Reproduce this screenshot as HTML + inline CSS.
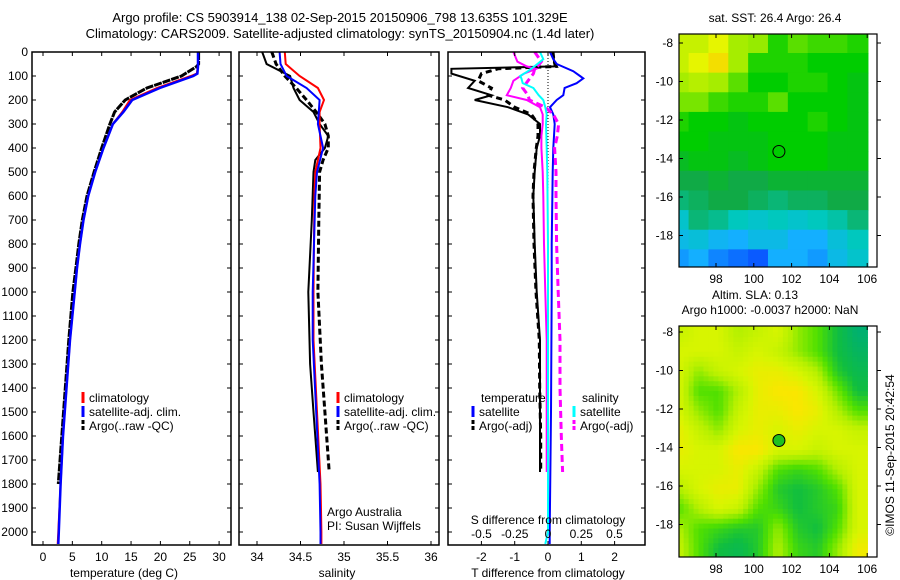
<!DOCTYPE html>
<html><head><meta charset="utf-8"><style>
body{margin:0;background:#fff;}
svg{display:block;font-family:"Liberation Sans",sans-serif;}
</style></head><body>
<svg id="fig" width="900" height="580" xmlns="http://www.w3.org/2000/svg">
<rect width="900" height="580" fill="#fff"/>
<text x="340" y="22" font-size="13" text-anchor="middle">Argo profile: CS 5903914_138 02-Sep-2015 20150906_798 13.635S 101.329E</text>
<text x="340" y="38" font-size="13" text-anchor="middle">Climatology: CARS2009. Satellite-adjusted climatology: synTS_20150904.nc (1.4d later)</text>
<g id="g1"></g>
<g id="g2"></g>
<g id="g3"></g>
<g id="m1"></g>
<g id="m2"></g>
<text x="775" y="22" font-size="12" text-anchor="middle">sat. SST: 26.4 Argo: 26.4</text>
<text x="755" y="299" font-size="12" text-anchor="middle">Altim. SLA: 0.13</text>
<text x="770" y="314" font-size="12" text-anchor="middle">Argo h1000: -0.0037 h2000: NaN</text>
<text transform="translate(894,455) rotate(-90)" font-size="12" text-anchor="middle">©IMOS 11-Sep-2015 20:42:54</text>
</svg>
<script>
// ---- data ----
const tDepth=[0,60,90,100,150,200,250,300,400,500,600,700,800,900,1000,1200,1400,1600,1800,2000,2050];
const tClim=[26.4,26.4,26.2,25.2,19.4,14.8,13.5,11.9,10.3,8.9,7.7,6.9,6.3,5.8,5.4,4.6,4.0,3.4,3.0,2.6,2.5];
const tSat=[26.4,26.4,26.3,25.6,19.9,15.2,13.7,11.9,10.3,8.9,7.7,6.9,6.3,5.8,5.4,4.6,4.0,3.4,3.0,2.7,2.6];
const argoDepth=[0,50,60,100,150,200,250,300,400,500,600,700,800,900,1000,1200,1400,1600,1800];
const tArgo=[26.5,26.5,26.2,23.6,17.7,14.0,12.2,11.4,10.0,8.7,7.5,6.7,6.1,5.6,5.1,4.4,3.8,3.2,2.6];
const sDepth=[0,50,100,150,200,250,300,400,500,600,1000,1200,1500,1800,2000,2050];
const sClim=[34.32,34.33,34.49,34.70,34.77,34.72,34.72,34.73,34.67,34.66,34.65,34.65,34.69,34.73,34.74,34.74];
const sSat=[34.26,34.27,34.34,34.57,34.72,34.71,34.70,34.76,34.69,34.67,34.64,34.64,34.68,34.72,34.73,34.73];
const sArgoDepth=[0,50,100,150,200,250,300,350,400,450,500,700,1000,1300,1500,1750];
const sArgoRaw=[34.06,34.11,34.38,34.42,34.49,34.65,34.72,34.82,34.78,34.67,34.65,34.63,34.59,34.61,34.65,34.70];
const sArgoQC=[34.17,34.22,34.32,34.45,34.57,34.68,34.78,34.82,34.82,34.76,34.72,34.71,34.70,34.74,34.78,34.83];
const dDepth=[0,40,60,70,90,120,150,180,200,230,260,300,350,400,500,600,800,1000,1200,1400,1600,1750];
const dTArgo=[0.16,0.18,0.2,-2.9,-2.9,-2.2,-2.4,-1.7,-2.2,-1.2,-0.6,-0.24,-0.24,-0.34,-0.4,-0.44,-0.4,-0.34,-0.24,-0.24,-0.24,-0.24];
const dTArgoAdj=[0.15,0.18,0.25,-1.5,-2.0,-2.1,-1.7,-1.8,-1.3,-1.0,-0.5,-0.3,-0.3,-0.35,-0.42,-0.45,-0.42,-0.36,-0.26,-0.25,-0.22,-0.22];
const dSatDepth=[0,30,50,80,100,110,130,150,180,200,230,260,300,400,500,800,1000,1500,2000,2050];
const dTSat=[0.06,0.16,0.26,0.76,0.96,1.06,0.86,0.5,0.46,0.26,0.06,0.16,0.2,0.16,0.14,0.11,0.11,0.09,0.05,0.05];
const dSSat=[-0.06,-0.035,-0.08,-0.15,-0.21,-0.2,-0.19,-0.11,-0.07,-0.035,-0.02,-0.01,-0.015,-0.01,-0.005,0,0,0,0,-0.02];
const dSArgo=[-0.26,-0.23,-0.16,-0.09,-0.18,-0.26,-0.28,-0.31,-0.16,-0.06,-0.04,-0.04,-0.05,-0.05,-0.04,-0.035,-0.03,-0.02,-0.01,-0.01,-0.01,-0.01];
const dSArgoAdj=[-0.1,-0.05,-0.08,-0.1,-0.11,-0.15,-0.19,-0.15,-0.14,-0.02,0.04,0.08,0.07,0.05,0.06,0.06,0.065,0.077,0.09,0.09,0.10,0.11];
const depthTicks=[0,100,200,300,400,500,600,700,800,900,1000,1100,1200,1300,1400,1500,1600,1700,1800,1900,2000];
const tTicks=[0,5,10,15,20,25,30];
const sTicks=[34,34.5,35,35.5,36];
const dTTicks=[-2,-1,0,1,2];
const dSTicks=[-0.5,-0.25,0,0.25,0.5];
const dSTickLabels=["-0.5","-0.25","0","0.25","0.5"];
const sstRows=[
[27.2,27.2,27.4,27.0,26.9,26.5,26.7,26.6,26.6,26.5],
[27.2,27.4,27.6,27.0,26.5,26.5,26.5,26.4,26.4,26.4],
[27.0,27.1,27.0,26.7,26.4,26.4,26.5,26.5,26.4,26.3],
[26.8,26.8,26.6,26.5,26.5,26.7,26.4,26.4,26.4,26.3],
[26.5,26.4,26.4,26.3,26.4,26.4,26.4,26.5,26.4,26.3],
[26.4,26.4,26.3,26.3,26.3,26.4,26.4,26.4,26.3,26.3],
[26.2,26.3,26.3,26.2,26.3,26.4,26.4,26.4,26.3,26.3],
[26.0,26.0,26.1,26.0,26.0,26.1,26.1,26.1,26.1,26.1],
[25.8,25.9,26.0,26.0,25.9,25.8,25.9,25.9,26.0,26.0],
[25.4,25.8,25.7,25.5,25.4,25.5,25.4,25.5,25.6,25.8],
[25.2,25.3,25.1,25.0,25.2,25.2,25.0,25.0,25.3,25.5],
[24.9,25.0,24.8,24.7,24.6,25.0,25.0,24.9,25.2,25.4]];
const slaRows=[
[.8,.85,.85,.75,.8,.85,.7,.6,.45,.3],
[.85,.85,.85,.8,.85,.8,.7,.6,.45,.35],
[.85,.7,.8,.85,.9,.9,.85,.75,.5,.4],
[.85,.6,.6,.75,.9,.95,.95,.85,.65,.45],
[.85,.7,.6,.8,.9,.9,.95,.9,.75,.6],
[.9,.8,.7,.85,.9,.85,.9,.85,.85,.8],
[.9,.85,.85,.95,.95,.85,.85,.8,.85,.85],
[.85,.85,.85,.9,.8,.6,.55,.6,.75,.85],
[.75,.85,.9,.9,.7,.5,.45,.5,.6,.85],
[.6,.75,.85,.8,.6,.55,.45,.5,.55,.85],
[.75,.6,.55,.5,.5,.7,.5,.45,.6,.85],
[.8,.6,.45,.4,.5,.75,.55,.5,.7,.92]];
const lonTicks=[98,100,102,104,106];
const latTicks=[-8,-10,-12,-14,-16,-18];
const argoLon=101.329, argoLat=-13.635;

const NS="http://www.w3.org/2000/svg";
function mk(p,tag,at,txt){const e=document.createElementNS(NS,tag);for(const k in at)e.setAttribute(k,at[k]);if(txt!==undefined)e.textContent=txt;p.appendChild(e);return e;}
const yD=d=>52+d*0.24;
const xT=v=>43+v*5.87;
const xS=v=>257+(v-34)*87;
const xDT=v=>548+v*33.3;
const xDS=v=>548+v*133;
function line(g,depths,vals,fx,color,w,dash,name){
  const pts=depths.map((d,i)=>fx(vals[i]).toFixed(1)+","+yD(d).toFixed(1)).join(" ");
  const e=mk(g,"polyline",{points:pts,fill:"none",stroke:color,"stroke-width":w});
  if(dash)e.setAttribute("stroke-dasharray",dash);
  
  
}
function panel(g,x0,x1,id){
  const cp=mk(g,"clipPath",{id:id});mk(cp,"rect",{x:x0,y:52,width:x1-x0,height:493});
  const inner=mk(g,"g",{"clip-path":"url(#"+id+")"});
  depthTicks.forEach(d=>{mk(g,"line",{x1:x0,x2:x0+4,y1:yD(d),y2:yD(d),stroke:"#000"});mk(g,"line",{x1:x1-4,x2:x1,y1:yD(d),y2:yD(d),stroke:"#000"});});
  return inner;
}
function frame(g,x0,x1){const r=mk(g,"rect",{x:x0,y:52,width:x1-x0,height:493,fill:"none",stroke:"#000","stroke-width":1.5});}
function legendItem(g,x,y,color,label,dash){
  mk(g,"line",{x1:x,x2:x,y1:y-10,y2:y+1,stroke:color,"stroke-width":3,"stroke-dasharray":dash||""});
  const t=mk(g,"text",{x:x+6,y:y,"font-size":12},label);
  
  
}
// panel 1
const g1=document.getElementById("g1");
const i1=panel(g1,32,231,"c1");
depthTicks.forEach(d=>{const t=mk(g1,"text",{x:28,y:yD(d)+4,"font-size":12,"text-anchor":"end"},String(d));});
tTicks.forEach(v=>{mk(g1,"line",{x1:xT(v),x2:xT(v),y1:545,y2:541,stroke:"#000"});mk(g1,"line",{x1:xT(v),x2:xT(v),y1:52,y2:56,stroke:"#000"});const t=mk(g1,"text",{x:xT(v),y:561,"font-size":12,"text-anchor":"middle"},String(v));});
mk(g1,"text",{x:124,y:577,"font-size":12,"text-anchor":"middle"},"temperature (deg C)");
line(i1,argoDepth,tArgo,xT,"#000",3,"8,1","temperature-argo");
line(i1,tDepth,tClim,xT,"#f00",2,null,"temperature-climatology");
line(i1,tDepth,tSat,xT,"#00f",2.5,null,"temperature-satellite");
frame(g1,32,231);
legendItem(g1,83,402,"#f00","climatology");
legendItem(g1,83,416,"#00f","satellite-adj. clim.");
legendItem(g1,83,430,"#000","Argo(..raw -QC)","4,2");
// panel 2
const g2=document.getElementById("g2");
const i2=panel(g2,239,439,"c2");
sTicks.forEach(v=>{mk(g2,"line",{x1:xS(v),x2:xS(v),y1:545,y2:541,stroke:"#000"});mk(g2,"line",{x1:xS(v),x2:xS(v),y1:52,y2:56,stroke:"#000"});const t=mk(g2,"text",{x:xS(v),y:561,"font-size":12,"text-anchor":"middle"},String(v));});
mk(g2,"text",{x:337,y:577,"font-size":12,"text-anchor":"middle"},"salinity");
line(i2,sArgoDepth,sArgoRaw,xS,"#000",2,null,"salinity-argo-raw");
line(i2,sArgoDepth,sArgoQC,xS,"#000",3,"6,3","salinity-argo-qc");
line(i2,sDepth,sClim,xS,"#f00",2,null,"salinity-climatology");
line(i2,sDepth,sSat,xS,"#00f",2,null,"salinity-satellite");
frame(g2,239,439);
legendItem(g2,338,402,"#f00","climatology");
legendItem(g2,338,416,"#00f","satellite-adj. clim.");
legendItem(g2,338,430,"#000","Argo(..raw -QC)","4,2");
mk(g2,"text",{x:327,y:516,"font-size":12},"Argo Australia");
mk(g2,"text",{x:327,y:530,"font-size":12},"PI: Susan Wijffels");
// panel 3
const g3=document.getElementById("g3");
const i3=panel(g3,448,645,"c3");
mk(i3,"line",{x1:548,x2:548,y1:52,y2:300,stroke:"#000","stroke-dasharray":"1,2"});
dTTicks.forEach(v=>{mk(g3,"line",{x1:xDT(v),x2:xDT(v),y1:545,y2:541,stroke:"#000"});const t=mk(g3,"text",{x:xDT(v),y:561,"font-size":12,"text-anchor":"middle"},String(v));});
dSTicks.forEach((v,i)=>{mk(g3,"line",{x1:xDS(v),x2:xDS(v),y1:52,y2:56,stroke:"#000"});const t=mk(g3,"text",{x:xDS(v),y:538,"font-size":12,"text-anchor":"middle"},dSTickLabels[i]);});
mk(g3,"text",{x:548,y:524,"font-size":12,"text-anchor":"middle"},"S difference from climatology");
mk(g3,"text",{x:548,y:577,"font-size":12,"text-anchor":"middle"},"T difference from climatology");
line(i3,dDepth,dTArgo,xDT,"#000",2,null,"t-diff-argo");
line(i3,dDepth,dTArgoAdj,xDT,"#000",3,"6,4","t-diff-argo-adj");
line(i3,dSatDepth,dTSat,xDT,"#00f",2,null,"t-diff-satellite");
line(i3,dDepth,dSArgo,xDS,"#f0f",2,null,"s-diff-argo");
line(i3,dDepth,dSArgoAdj,xDS,"#f0f",3,"7,4","s-diff-argo-adj");
line(i3,dSatDepth,dSSat,xDS,"#0ff",2,null,"s-diff-satellite");
frame(g3,448,645);
mk(g3,"text",{x:481,y:402,"font-size":12},"temperature");
legendItem(g3,473,416,"#00f","satellite");
legendItem(g3,473,430,"#000","Argo(-adj)","4,2");
mk(g3,"text",{x:582,y:402,"font-size":12},"salinity");
legendItem(g3,574,416,"#0ff","satellite");
legendItem(g3,574,430,"#f0f","Argo(-adj)","4,2");
// maps
function interp(stops,v){if(v<=stops[0][0])return "rgb("+stops[0][1].join(",")+")";for(let i=1;i<stops.length;i++){if(v<=stops[i][0]){const a=stops[i-1],b=stops[i],f=(v-a[0])/(b[0]-a[0]);return "rgb("+[0,1,2].map(k=>Math.round(a[1][k]+(b[1][k]-a[1][k])*f)).join(",")+")";}}const l=stops[stops.length-1][1];return "rgb("+l.join(",")+")";}
const sstStops=[[24.6,[10,90,255]],[25.0,[20,175,255]],[25.5,[0,200,190]],[26.0,[16,170,70]],[26.4,[0,205,0]],[26.9,[150,235,0]],[27.4,[230,245,0]],[27.8,[255,200,0]]];
const slaStops=[[0.3,[0,176,112]],[0.45,[16,190,64]],[0.6,[80,224,0]],[0.75,[180,240,0]],[0.85,[215,245,0]],[0.95,[250,230,0]],[1,[255,200,0]]];
function sample(rows,r,c){
  const R=rows.length,C=rows[0].length;
  r=Math.max(0,Math.min(R-1,r));c=Math.max(0,Math.min(C-1,c));
  const r0=Math.floor(r),c0=Math.floor(c),r1=Math.min(R-1,r0+1),c1=Math.min(C-1,c0+1),fr=r-r0,fc=c-c0;
  return rows[r0][c0]*(1-fr)*(1-fc)+rows[r0][c1]*(1-fr)*fc+rows[r1][c0]*fr*(1-fc)+rows[r1][c1]*fr*fc;
}
function drawMap(g,rows,stops,y0,y1,lat8,clipId,fillCircle,sub){
  const xL=lon=>716+(lon-98)*18.9;
  const yL=lat=>lat8+(-8-lat)*19.25;
  const cp=mk(g,"clipPath",{id:clipId});mk(cp,"rect",{x:679,y:y0,width:198,height:y1-y0});
  const inner=mk(g,"g",{"clip-path":"url(#"+clipId+")"});
  const R=rows.length,C=rows[0].length;
  for(let r=0;r<R*sub;r++)for(let c=0;c<C*sub;c++){
    const rr=(r+0.5)/sub-0.5, cc=(c+0.5)/sub-0.5;
    const v=sub>1?sample(rows,rr,cc):rows[r][c];
    const lon=95.5+c*1.05/sub, lat=-7.5-r*1.02/sub;
    const cell=mk(inner,"rect",{x:xL(lon),y:yL(lat),width:20.5/sub+0.6,height:20/sub+0.6,fill:interp(stops,v)});
    
    
  }
  const ci=mk(g,"circle",{cx:xL(argoLon),cy:yL(argoLat),r:6,fill:fillCircle||"none",stroke:"#000","stroke-width":1});
  
  
  mk(g,"rect",{x:679,y:y0,width:198,height:y1-y0,fill:"none",stroke:"#000","stroke-width":1.2});
  lonTicks.forEach(v=>{mk(g,"line",{x1:xL(v),x2:xL(v),y1:y1,y2:y1-4,stroke:"#000"});mk(g,"line",{x1:xL(v),x2:xL(v),y1:y0,y2:y0+4,stroke:"#000"});const t=mk(g,"text",{x:xL(v),y:y1+16,"font-size":12,"text-anchor":"middle"},String(v));});
  latTicks.forEach(v=>{mk(g,"line",{x1:679,x2:683,y1:yL(v),y2:yL(v),stroke:"#000"});mk(g,"line",{x1:877,x2:881,y1:yL(v),y2:yL(v),stroke:"#000"});const t=mk(g,"text",{x:673,y:yL(v)+4,"font-size":12,"text-anchor":"end"},String(v));});
}
drawMap(document.getElementById("m1"),sstRows,sstStops,34,267,43,"cm1",null,1);
drawMap(document.getElementById("m2"),slaRows,slaStops,326,557,332,"cm2","#20c020",4);
</script>
</body></html>
